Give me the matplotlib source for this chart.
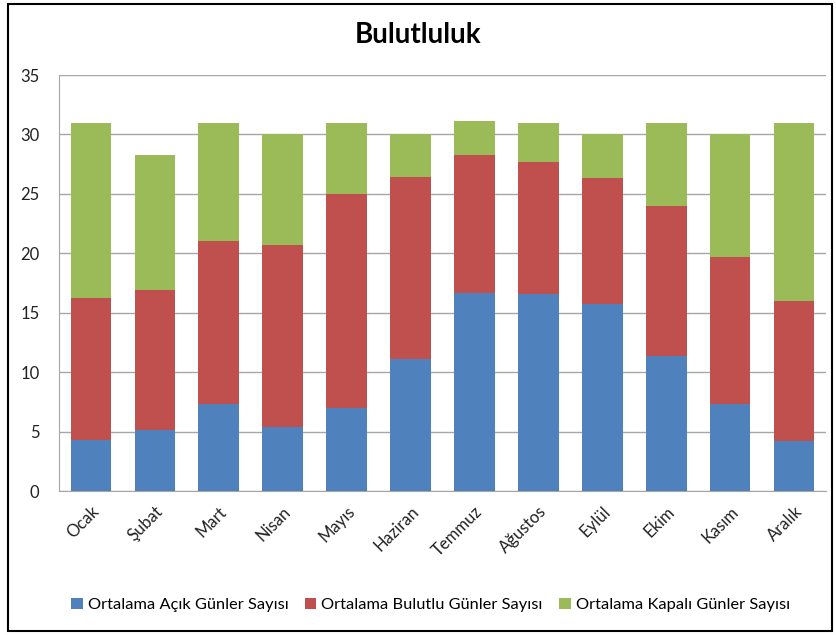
import numpy as np
import matplotlib
matplotlib.use("Agg")
import matplotlib.pyplot as plt
from matplotlib.patches import Rectangle

# ==================================
# DATA
# ==================================

months = ["Ocak", "Şubat", "Mart", "Nisan", "Mayıs", "Haziran",
          "Temmuz", "Ağustos", "Eylül", "Ekim", "Kasım", "Aralık"]

acik = [4.3, 5.1, 7.3, 5.4, 7.0, 11.1, 16.7, 16.6, 15.7, 11.4, 7.3, 4.2]
bulutlu = [11.9, 11.8, 13.7, 15.3, 18.0, 15.3, 11.6, 11.1, 10.6, 12.6, 12.4, 11.8]
kapali = [14.8, 11.4, 10.0, 9.3, 6.0, 3.6, 2.8, 3.3, 3.7, 7.0, 10.3, 15.0]

series_names = ["Ortalama Açık Günler Sayısı",
                "Ortalama Bulutlu Günler Sayısı",
                "Ortalama Kapalı Günler Sayısı"]

colors = ["#4F81BD", "#C0504D", "#9BBB59"]

# ==================================
# FIGURE
# ==================================

plt.rcParams["font.family"] = ["Lato", "DejaVu Sans"]

fig = plt.figure(figsize=(8.36, 6.35), dpi=100)
ax = fig.add_axes([59 / 836, 1 - 491 / 635, (826 - 59) / 836, (491 - 75) / 635])

x = np.arange(len(months))
bottom = np.zeros(len(months))
for vals, name, c in zip([acik, bulutlu, kapali], series_names, colors):
    ax.bar(x, vals, width=0.635, bottom=bottom, color=c, label=name, zorder=3)
    bottom += np.array(vals)

ax.set_xlim(-0.5, len(months) - 0.5)
ax.set_ylim(0, 35)
ax.set_yticks(range(0, 36, 5))
ax.grid(axis="y", color="#A6A6A6", linewidth=1, zorder=0)

ax.set_xticks(x)
ax.set_xticklabels(months, rotation=45, ha="right", rotation_mode="anchor",
                   fontsize=12, color="#222222")
ax.tick_params(axis="y", labelsize=12, colors="#222222", length=0, pad=14)
ax.tick_params(axis="x", length=0, pad=9)

for side in ["top", "right"]:
    ax.spines[side].set_visible(False)
ax.spines["left"].set_color("#A6A6A6")
ax.spines["bottom"].set_color("#A6A6A6")

fig.text(0.5, 1 - 35 / 635, "Bulutluluk", ha="center", va="center",
         fontsize=20, fontweight="bold")

fig.legend(loc="center", bbox_to_anchor=(0.515, 1 - 605 / 635), ncol=3,
           frameon=False, fontsize=11.8, handlelength=0.7, handleheight=0.7,
           handletextpad=0.3, columnspacing=1.0)

fig.patches.append(Rectangle((8 / 836, 1 - 631 / 635), 824 / 836, 627 / 635,
                             transform=fig.transFigure, fill=False,
                             edgecolor="black", linewidth=1.5))

fig.savefig("out.png", dpi=100)
